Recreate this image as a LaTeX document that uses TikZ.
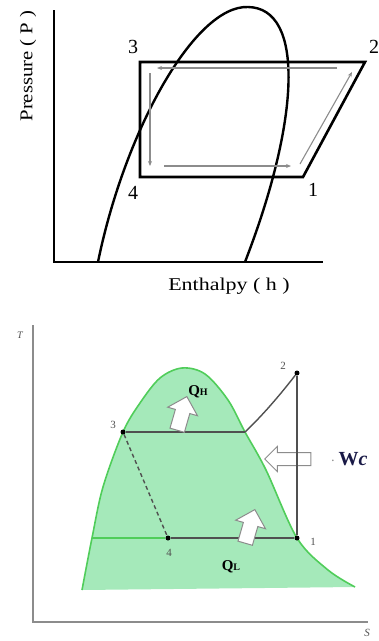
\documentclass[tikz,border=0pt]{standalone}
\usepackage{fontspec}
\setmainfont{Liberation Serif}
\usetikzlibrary{shapes.arrows,arrows.meta}
\definecolor{domefill}{RGB}{165,233,186}
\definecolor{domeline}{RGB}{80,205,90}
\definecolor{cyc}{RGB}{80,80,80}
\definecolor{flowgray}{RGB}{140,140,140}
\definecolor{wcblue}{RGB}{25,25,70}
\tikzset{
  axis/.style={line width=2.6pt},
  cycleline/.style={line width=2.6pt, line join=miter},
  flow/.style={flowgray, line width=1.1pt, -{Stealth[length=5pt,width=4pt]}},
  bigtext/.style={font=\fontsize{18}{18}\selectfont, inner sep=0pt},
  lbl/.style={font=\fontsize{20}{20}\selectfont, inner sep=0pt},
  taxis/.style={flowgray, line width=1.3pt},
  tsline/.style={cyc, line width=1.4pt},
  dot/.style={circle, fill=black, inner sep=0pt, minimum size=5pt},
  small/.style={font=\fontsize{11}{11}\selectfont, inner sep=0pt, text=cyc},
  hollow/.style={single arrow, draw=flowgray, fill=white, line width=1pt,
    inner xsep=0pt, inner ysep=7pt, single arrow head extend=8pt,
    minimum height=35pt},
}
\begin{document}
\begin{tikzpicture}[x=1pt,y=-1pt]
\useasboundingbox (0,0) rectangle (379,641);
% ===== P-h diagram =====
\coordinate (ptop) at (54,10);
\coordinate (porig) at (54,262);
\coordinate (pright) at (323,262);
\draw[axis] (ptop) -- (porig) -- (pright);
\node[bigtext, rotate=90] (plabel) at (28,66) {\scalebox{1.15}[1]{Pressure ( P )}};
\node[bigtext] (hlabel) at (229,286) {\scalebox{1.22}[1]{Enthalpy ( h )}};
% dome
\coordinate (dl) at (98,262);
\coordinate (dp) at (248,7);
\coordinate (dr) at (245,262);
\draw[line width=2.4pt] (dl) .. controls (125,130) and (195,5) .. (dp)
  .. controls (305,8) and (300,120) .. (dr);
% cycle
\coordinate (c3) at (140,62);
\coordinate (c2) at (365,62);
\coordinate (c1) at (303,177);
\coordinate (c4) at (140,177);
\draw[cycleline] (c3) -- (c2) -- (c1) -- (c4) -- cycle;
\node[lbl] (n3) at (133,47) {3};
\node[lbl] (n2) at (374,47) {2};
\node[lbl] (n1) at (313,190) {1};
\node[lbl] (n4) at (133,193) {4};
\coordinate (fa1) at (337,68);  \coordinate (fa2) at (157,68);
\coordinate (fb1) at (150,73);  \coordinate (fb2) at (150,166);
\coordinate (fc1) at (164,166); \coordinate (fc2) at (291,166);
\coordinate (fd1) at (300,164); \coordinate (fd2) at (352,72);
\draw[flow] (fa1) -- (fa2);
\draw[flow] (fb1) -- (fb2);
\draw[flow] (fc1) -- (fc2);
\draw[flow] (fd1) -- (fd2);
% ===== T-s diagram =====
\coordinate (ttop) at (33,325);
\coordinate (torig) at (33,622);
\coordinate (tright) at (368,622);
\draw[taxis] (ttop) -- (torig) -- (tright);
\node[font=\itshape\fontsize{10}{10}\selectfont, text=cyc, inner sep=0pt] (tl) at (20,335) {T};
\node[font=\itshape\fontsize{11}{11}\selectfont, text=cyc, inner sep=0pt] (sl) at (367,633) {S};
% dome
\fill[domefill] plot[smooth, tension=0.55] coordinates {
 (82,590) (92,538) (103,487) (123,432) (140,403) (160,378) (182,368) (205,374)
 (228,400) (245,432) (266,470) (297,538) (328,570) (355,587)} -- cycle;
\draw[domeline, line width=1.6pt] plot[smooth, tension=0.55] coordinates {
 (82,590) (92,538) (103,487) (123,432) (140,403) (160,378) (182,368) (205,374)
 (228,400) (245,432) (266,470) (297,538) (328,570) (355,587)};
% Wc arrow (under the vertical line)
\node[hollow, rotate=180, inner ysep=6pt, single arrow head extend=6pt, minimum height=46pt] (wcarrow) at (291,459) {};
% cycle
\node[dot] (s3) at (123,432) {};
\node[dot] (s4) at (168,538) {};
\node[dot] (s1) at (297,538) {};
\node[dot] (s2) at (297,373) {};
\coordinate (sv) at (245,432);
\coordinate (sl0) at (92,538);
\draw[tsline] (s3) -- (sv);
\draw[tsline] (sv) .. controls (262,416) and (280,395) .. (s2);
\draw[tsline] (s2) -- (s1);
\draw[tsline] (s4) -- (s1);
\draw[domeline, line width=1.4pt] (sl0) -- (s4);
\draw[tsline, dashed, dash pattern=on 4pt off 3pt] (s3) -- (s4);
\node[small] (m3) at (113,425) {3};
\node[small] (m2) at (283,366) {2};
\node[small] (m1) at (313,542) {1};
\node[small] (m4) at (169,553) {4};
% hollow arrows
\node[hollow, rotate=74] (qharrow) at (181,417) {};
\node[hollow, rotate=74] (qlarrow) at (249,530) {};
\node[inner sep=0pt, font=\bfseries\fontsize{15}{15}\selectfont] (qh) at (198,392) {Q{\fontsize{10}{10}\selectfont H}};
\node[inner sep=0pt, font=\bfseries\fontsize{15}{15}\selectfont] (ql) at (231,567) {Q{\fontsize{10}{10}\selectfont L}};
\node[inner sep=0pt, font=\fontsize{20}{20}\selectfont, text=wcblue] (wc) at (349,459) {{\color{flowgray}\fontsize{14}{14}\selectfont·}\,\textbf{W}\textbf{\textit{c}}};
\end{tikzpicture}
\end{document}
